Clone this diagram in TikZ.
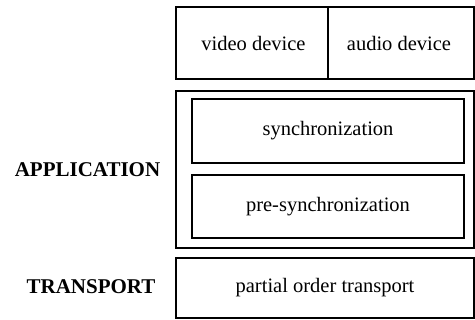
\documentclass[tikz,border=0pt]{standalone}
\usepackage{fontspec}
\setmainfont{Liberation Serif}
\begin{document}
\begin{tikzpicture}[x=1pt,y=-1pt,
  box/.style={draw=black,line width=1.4pt},
  txt/.style={font=\fontsize{20.5}{24}\selectfont},
  lbl/.style={font=\fontsize{21}{25}\selectfont\bfseries}]
\useasboundingbox (0,0) rectangle (475,320);
% top device box
\draw[box] (176,7) rectangle (474,79);
\draw[box] (328,7) -- (328,79);
\node[txt] (video) at (253.5,43) {video device};
\node[txt] (audio) at (399,43) {audio device};
% application
\draw[box] (176,91) rectangle (474,248);
\node[box,txt,minimum width=272pt,minimum height=64pt,inner sep=0pt] (sync) at (328,131) {synchronization};
\node[box,txt,minimum width=272pt,minimum height=63pt,inner sep=0pt] (presync) at (328,206.5) {pre-synchronization};
\node[lbl] (app) at (87.5,170) {APPLICATION};
% transport
\node[box,txt,minimum width=298pt,minimum height=60pt,inner sep=0pt] (transport) at (325,288) {partial order transport};
\node[lbl] (tlabel) at (91,287) {TRANSPORT};
\end{tikzpicture}
\end{document}
